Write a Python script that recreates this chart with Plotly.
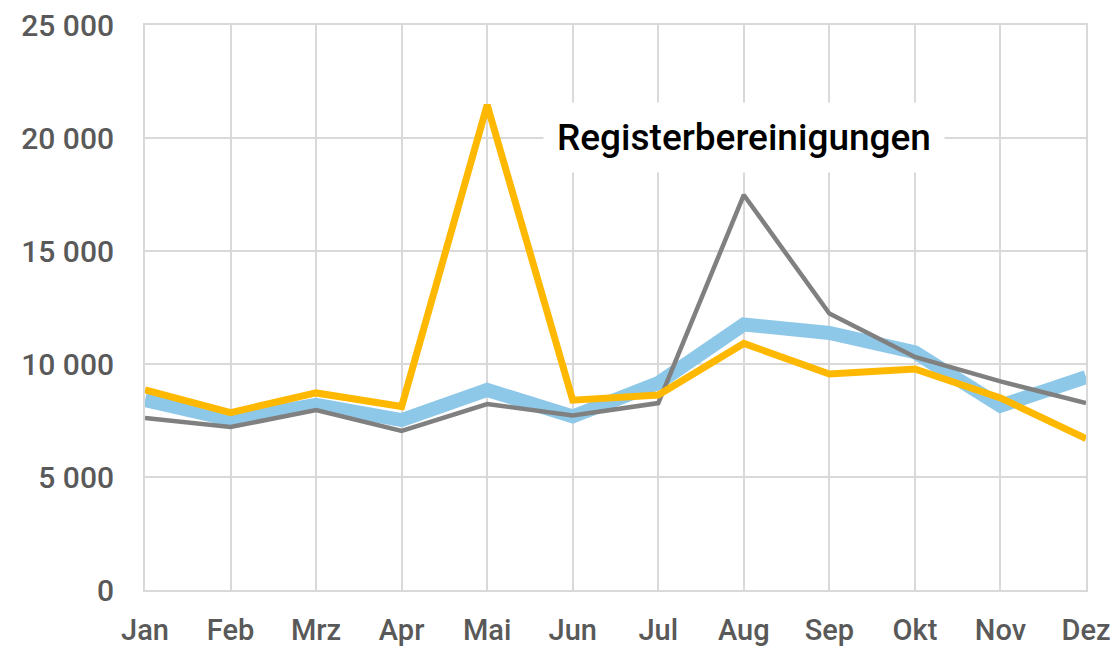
import plotly.graph_objects as go

months = ["Jan", "Feb", "Mrz", "Apr", "Mai", "Jun", "Jul", "Aug", "Sep", "Okt", "Nov", "Dez"]
blue_vals = [8400, 7540, 8190, 7520, 8850, 7680, 9160, 11750, 11370, 10520, 8150, 9420]
gray_vals = [7610, 7210, 7960, 7040, 8230, 7720, 8270, 17480, 12230, 10310, 9230, 8270]
yellow_vals = [8850, 7850, 8720, 8120, 21460, 8400, 8630, 10910, 9560, 9780, 8500, 6700]
y_ticks = [0, 5000, 10000, 15000, 20000, 25000]
y_tick_text = ["0", "5 000", "10 000", "15 000", "20 000", "25 000"]
annotation_text = "Registerbereinigungen"

FONT = "Roboto"
GRID = "#D9D9D9"

fig = go.Figure()
fig.add_trace(go.Scatter(x=months, y=blue_vals, mode="lines",
                         line=dict(color="#8EC8E8", width=14), hoverinfo="skip"))
fig.add_trace(go.Scatter(x=months, y=gray_vals, mode="lines",
                         line=dict(color="#808080", width=4.5), hoverinfo="skip"))
fig.add_trace(go.Scatter(x=months, y=yellow_vals, mode="lines",
                         line=dict(color="#FFB800", width=7), hoverinfo="skip"))

fig.add_annotation(x="Aug", y=20020, xref="x", yref="y", text=annotation_text,
                   showarrow=False, bgcolor="white", borderpad=13,
                   font=dict(family=FONT, size=37, color="black", weight=500))

fig.update_layout(
    width=1115, height=648,
    margin=dict(l=145, r=29, t=25, b=58, autoexpand=False),
    paper_bgcolor="white", plot_bgcolor="white",
    showlegend=False,
    font=dict(family=FONT, size=30, color="#595959", weight=500),
)
fig.update_xaxes(
    type="category", range=[0, 11], showgrid=True, gridcolor=GRID, gridwidth=2,
    showline=True, linecolor=GRID, linewidth=2, mirror=True, automargin=False,
    ticks="", ticklabelstandoff=13, zeroline=False,
    tickfont=dict(family=FONT, size=29, color="#595959", weight=500),
)
fig.update_yaxes(
    range=[0, 25000], tickvals=y_ticks, ticktext=y_tick_text,
    showgrid=True, gridcolor=GRID, gridwidth=2, automargin=False,
    showline=True, linecolor=GRID, linewidth=2, mirror=True,
    ticks="", ticklabelstandoff=23, zeroline=False,
    tickfont=dict(family=FONT, size=30, color="#595959", weight=500),
)

fig.write_html(
    "out.html",
    config={"displayModeBar": False},
    post_script="document.body.style.margin='0px';document.body.style.overflow='hidden';",
)
